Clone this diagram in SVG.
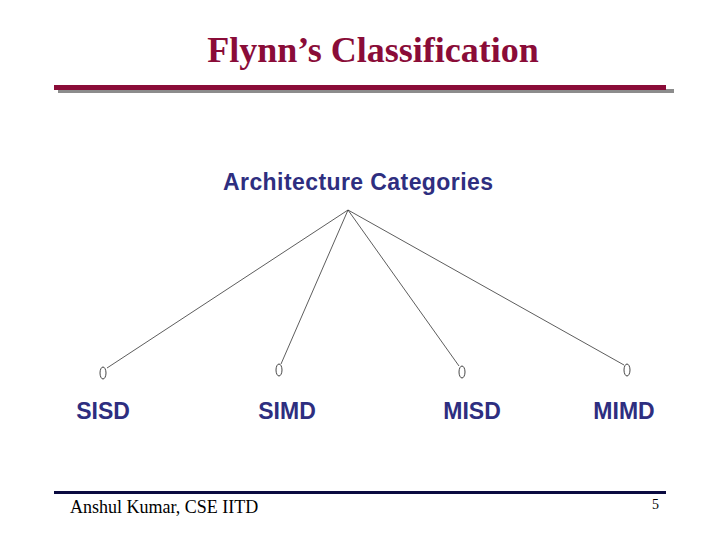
<svg xmlns="http://www.w3.org/2000/svg" width="720" height="540" viewBox="0 0 720 540">
<style>
.title{font-family:"Liberation Serif",serif;font-weight:bold;font-size:36px;fill:#8a0c38}
.lbl{font-family:"Liberation Sans",Arial,sans-serif;font-weight:bold;font-size:23px;fill:#2e2e80}
.foot{font-family:"Liberation Serif",serif;font-size:18px;fill:#000}
.edge{stroke:#333;stroke-width:0.8;fill:none}
.port{fill:#fff;stroke:#333;stroke-width:0.9}
</style>
<rect width="720" height="540" fill="#fff"/>
<text x="373" y="62" text-anchor="middle" class="title">Flynn’s Classification</text>
<rect x="58" y="89" width="616" height="4" fill="#8c8c8c"/>
<rect x="54" y="85" width="612" height="5" fill="#8a0c38"/>
<g id="root"><text x="223" y="190" class="lbl" textLength="270" lengthAdjust="spacing">Architecture Categories</text></g>
<g id="connectors">
<line class="edge" x1="348" y1="210" x2="107" y2="368"/>
<line class="edge" x1="348" y1="210" x2="281" y2="364"/>
<line class="edge" x1="348" y1="210" x2="459" y2="366"/>
<line class="edge" x1="348" y1="210" x2="624" y2="365"/>
</g>
<g id="sisd"><ellipse class="port" cx="103" cy="373" rx="3" ry="6"/><text x="103" y="419" text-anchor="middle" class="lbl">SISD</text></g>
<g id="simd"><ellipse class="port" cx="279" cy="370" rx="3" ry="6"/><text x="287" y="419" text-anchor="middle" class="lbl">SIMD</text></g>
<g id="misd"><ellipse class="port" cx="462" cy="372" rx="3" ry="6"/><text x="472" y="419" text-anchor="middle" class="lbl">MISD</text></g>
<g id="mimd"><ellipse class="port" cx="627" cy="370" rx="3" ry="6"/><text x="624" y="419" text-anchor="middle" class="lbl">MIMD</text></g>
<rect x="54" y="491" width="612" height="3" fill="#0a0a40"/>
<text x="70" y="513" class="foot">Anshul Kumar, CSE IITD</text>
<text x="659" y="509" text-anchor="end" font-family="Liberation Serif,serif" font-size="14">5</text>
</svg>
